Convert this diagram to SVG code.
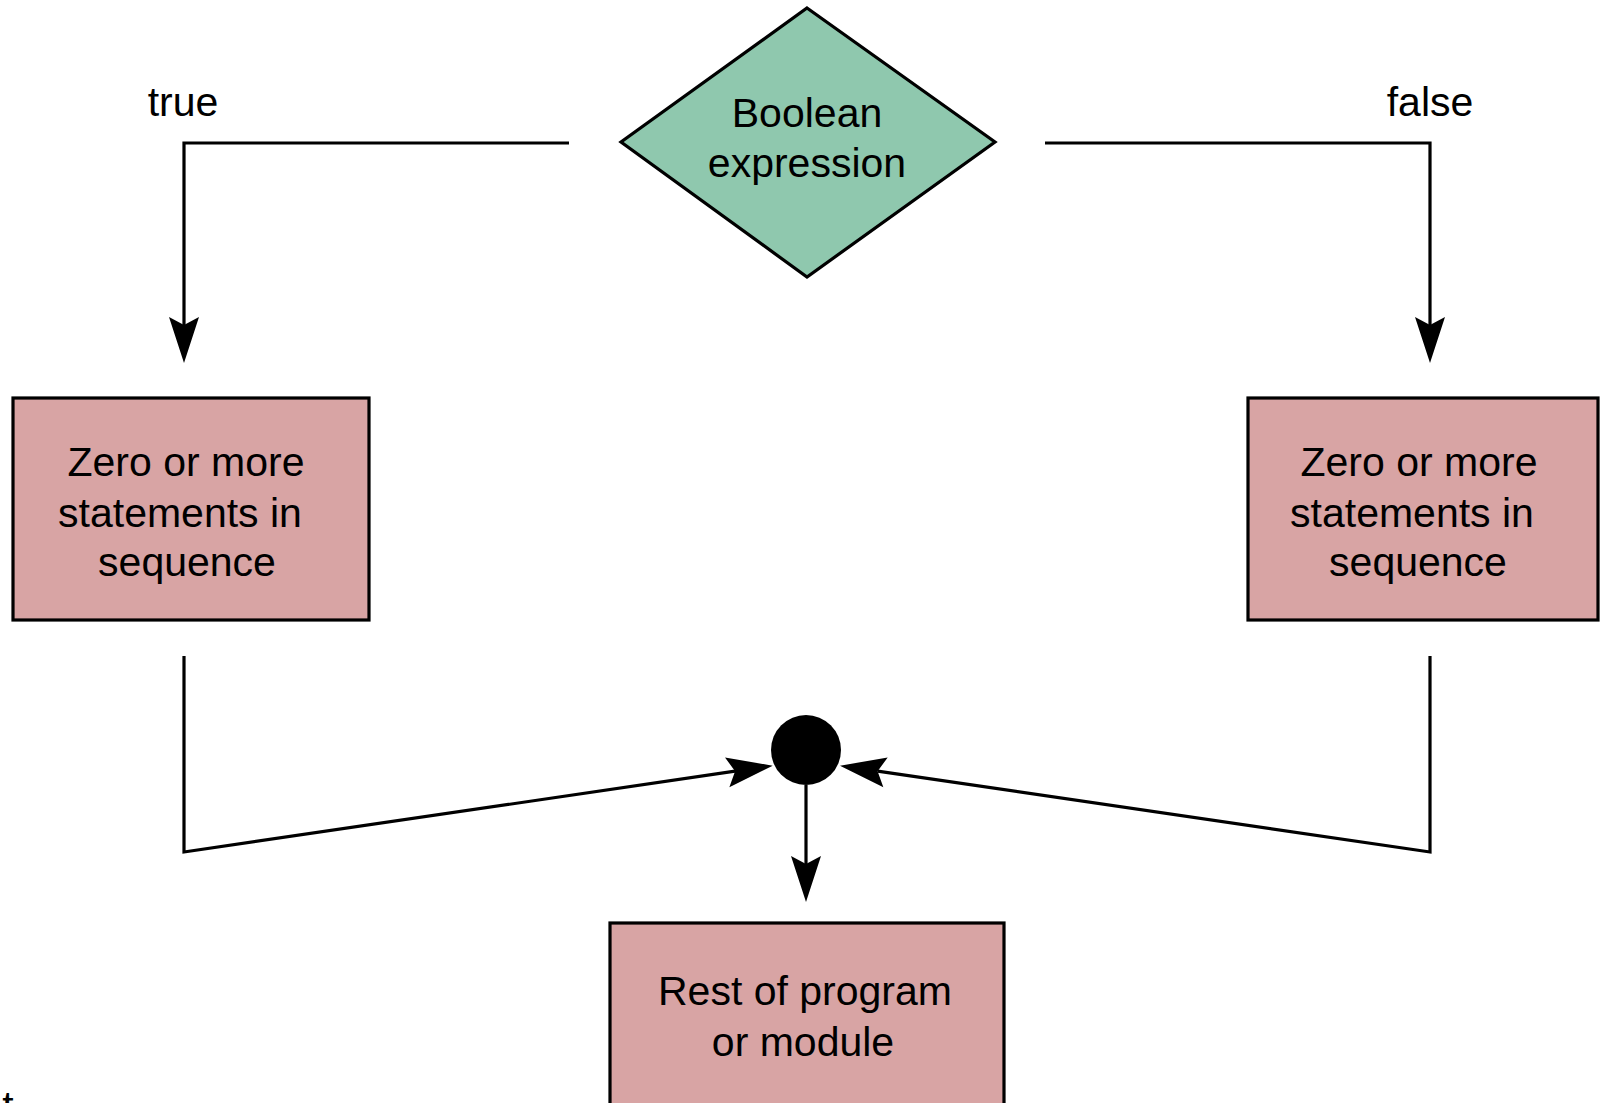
<svg xmlns="http://www.w3.org/2000/svg" width="1600" height="1103" viewBox="0 0 1600 1103">
<style>
text{font-family:"Liberation Sans",Arial,sans-serif;font-size:41px;fill:#000;text-anchor:middle}
.box{fill:#D8A4A4;stroke:#000;stroke-width:3.2}
.dec{fill:#8FC8AE;stroke:#000;stroke-width:3.2;stroke-linejoin:miter}
.ln{fill:none;stroke:#000;stroke-width:3.2}
</style>
<defs>
<marker id="ah" markerUnits="userSpaceOnUse" viewBox="-10 -17 50 34" refX="0" refY="0" markerWidth="50" markerHeight="34" orient="auto" overflow="visible">
<path d="M38,0 L-8,-15 L0,0 L-8,15 Z" fill="#000"/>
</marker>
</defs>
<rect width="1600" height="1103" fill="#fff"/>
<g id="connectors">
<polyline class="ln" points="569,143 184,143 184,325" marker-end="url(#ah)"/>
<polyline class="ln" points="1045,143 1430,143 1430,325" marker-end="url(#ah)"/>
<polyline class="ln" points="184,656 184,852 735.1,771.2" marker-end="url(#ah)"/>
<polyline class="ln" points="1430,656 1430,852 877.6,771.2" marker-end="url(#ah)"/>
<line class="ln" x1="806" y1="785" x2="806" y2="864" marker-end="url(#ah)"/>
</g>
<g id="decision">
<polygon class="dec" points="807,8 995,142 807,277 621,142"/>
<text x="807" y="127">Boolean</text>
<text x="807" y="177">expression</text>
</g>
<text id="label-true" x="183" y="116">true</text>
<text id="label-false" x="1430" y="116">false</text>
<g id="true-branch">
<rect class="box" x="13" y="398" width="356" height="222"/>
<text x="186" y="476">Zero or more</text>
<text x="180" y="527">statements in</text>
<text x="187" y="576">sequence</text>
</g>
<g id="false-branch">
<rect class="box" x="1248" y="398" width="350" height="222"/>
<text x="1419" y="476">Zero or more</text>
<text x="1412" y="527">statements in</text>
<text x="1418" y="576">sequence</text>
</g>
<g id="join">
<circle cx="806" cy="750" r="35" fill="#000"/>
</g>
<g id="rest">
<rect class="box" x="610" y="923" width="394" height="200"/>
<text x="805" y="1005">Rest of program</text>
<text x="803" y="1056">or module</text>
</g>
<text x="8" y="1120">t</text>
</svg>
